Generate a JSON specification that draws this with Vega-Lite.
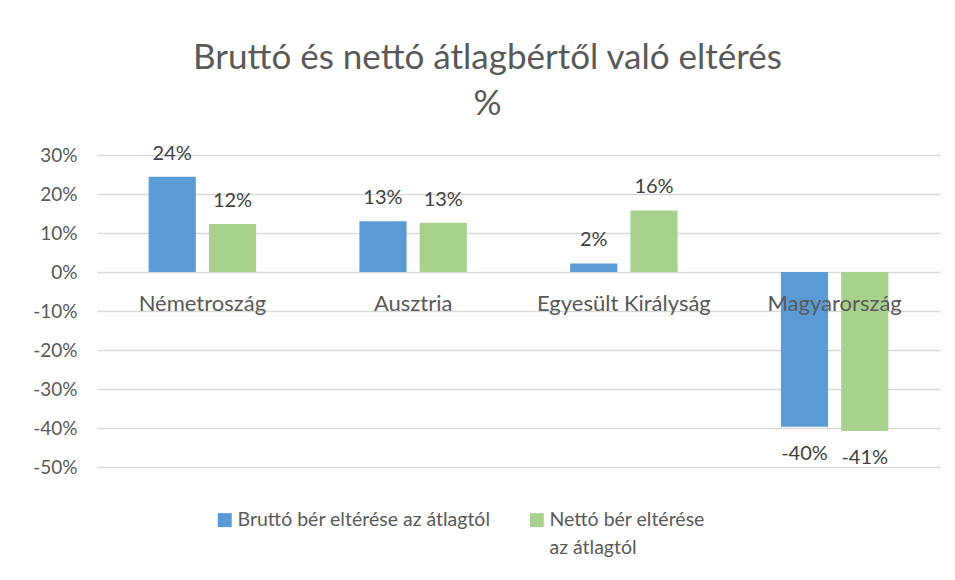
{
  "$schema": "https://vega.github.io/schema/vega-lite/v6.json",
  "width": 843,
  "height": 312,
  "autosize": "none",
  "padding": {"left": 97, "top": 155, "right": 15, "bottom": 113},
  "background": "white",
  "title": {
    "text": ["Bruttó és nettó átlagbértől való eltérés", "%"],
    "font": "Lato",
    "fontSize": 35,
    "fontWeight": "normal",
    "color": "#595959",
    "lineHeight": 46,
    "anchor": "middle",
    "dx": -31,
    "offset": 22
  },
  "data": {
    "values": [
      {"orszag": "Németroszág", "sorozat": "Bruttó bér eltérése az átlagtól", "ertek": 0.244},
      {"orszag": "Németroszág", "sorozat": "Nettó bér eltérése az átlagtól", "ertek": 0.123},
      {"orszag": "Ausztria", "sorozat": "Bruttó bér eltérése az átlagtól", "ertek": 0.130},
      {"orszag": "Ausztria", "sorozat": "Nettó bér eltérése az átlagtól", "ertek": 0.126},
      {"orszag": "Egyesült Királyság", "sorozat": "Bruttó bér eltérése az átlagtól", "ertek": 0.022},
      {"orszag": "Egyesült Királyság", "sorozat": "Nettó bér eltérése az átlagtól", "ertek": 0.158},
      {"orszag": "Magyarország", "sorozat": "Bruttó bér eltérése az átlagtól", "ertek": -0.397},
      {"orszag": "Magyarország", "sorozat": "Nettó bér eltérése az átlagtól", "ertek": -0.408}
    ]
  },
  "encoding": {
    "x": {
      "field": "orszag",
      "type": "nominal",
      "sort": null,
      "scale": {"paddingInner": 0.49, "paddingOuter": 0.245},
      "axis": {
        "title": null,
        "orient": "bottom",
        "offset": -195,
        "domain": false,
        "ticks": false,
        "labelAngle": 0,
        "labelPadding": 21,
        "labelFont": "Lato",
        "labelFontSize": 22,
        "labelColor": "#595959",
        "labelLimit": 300,
        "labelOverlap": false,
        "zindex": 2
      }
    },
    "xOffset": {
      "field": "sorozat",
      "type": "nominal",
      "scale": {"paddingInner": 0.217, "paddingOuter": 0}
    },
    "y": {
      "field": "ertek",
      "type": "quantitative",
      "scale": {"domain": [-0.5, 0.3], "nice": false, "zero": false},
      "axis": {
        "title": null,
        "format": ".0%",
        "values": [-0.5, -0.4, -0.3, -0.2, -0.1, 0, 0.1, 0.2, 0.3],
        "domain": false,
        "ticks": false,
        "grid": true,
        "gridColor": "#d9d9d9",
        "gridWidth": 1.3,
        "labelPadding": 20,
        "labelFont": "Lato",
        "labelFontSize": 19,
        "labelColor": "#595959"
      }
    }
  },
  "layer": [
    {
      "mark": {"type": "bar"},
      "encoding": {
        "color": {
          "field": "sorozat",
          "type": "nominal",
          "scale": {"range": ["#5b9bd5", "#a9d18e"]},
          "legend": {
            "title": null,
            "orient": "none",
            "direction": "horizontal",
            "legendX": 118,
            "legendY": 355,
            "symbolType": "square",
            "symbolSize": 196,
            "symbolStrokeWidth": 0,
            "labelFont": "Lato",
            "labelFontSize": 19.5,
            "labelColor": "#595959",
            "labelOffset": 3,
            "labelLimit": 400,
            "columnPadding": 36,
            "labelExpr": "datum.label == 'Nettó bér eltérése az átlagtól' ? ['Nettó bér eltérése', ' az átlagtól'] : [datum.label, '']"
          }
        }
      }
    },
    {
      "transform": [{"filter": "datum.ertek >= 0"}],
      "mark": {"type": "text", "font": "Lato", "fontSize": 20, "color": "#404040", "baseline": "alphabetic", "dy": -17},
      "encoding": {"text": {"field": "ertek", "type": "quantitative", "format": ".0%"}}
    },
    {
      "transform": [{"filter": "datum.ertek < 0"}],
      "mark": {"type": "text", "font": "Lato", "fontSize": 20, "color": "#404040", "baseline": "top", "dy": 17},
      "encoding": {"text": {"field": "ertek", "type": "quantitative", "format": ".0%"}}
    }
  ],
  "config": {
    "view": {"stroke": null},
    "style": {"guide-label": {"lineHeight": 28}},
    "locale": {
      "number": {"decimal": ".", "thousands": ",", "grouping": [3], "currency": ["$", ""], "minus": "-"}
    }
  }
}
